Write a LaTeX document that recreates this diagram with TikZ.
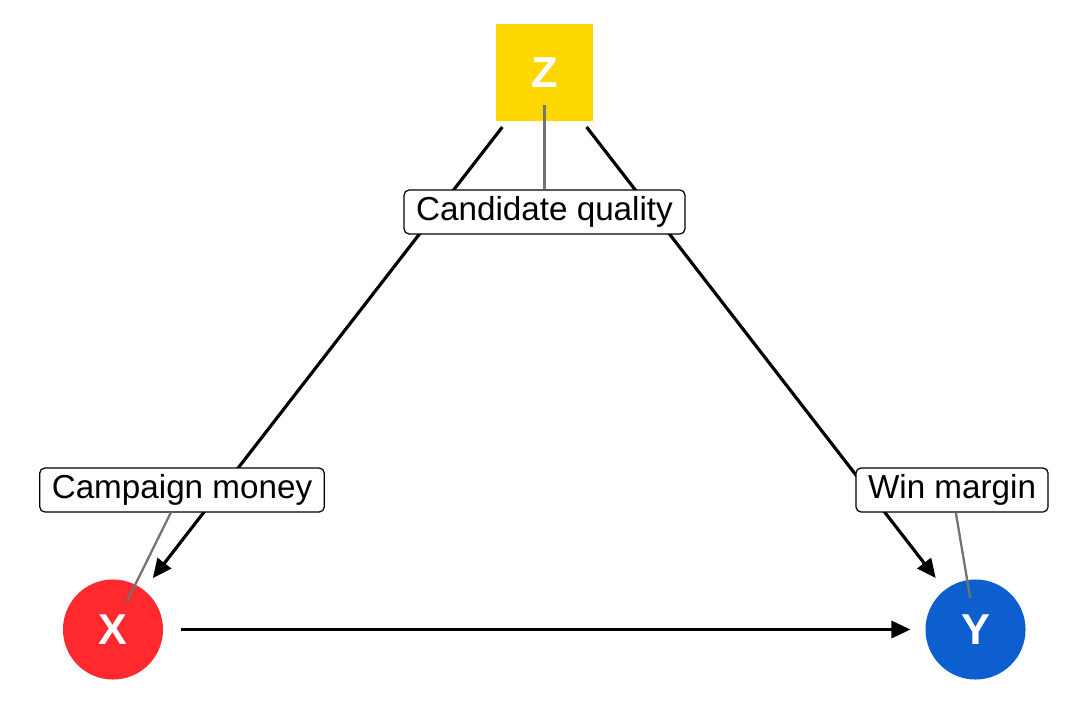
\documentclass[tikz,border=0pt]{standalone}
\usepackage{fontspec}
\setmainfont{Liberation Sans}
\usetikzlibrary{arrows.meta}
\definecolor{zyellow}{RGB}{255,215,0}
\definecolor{xred}{RGB}{255,41,46}
\definecolor{yblue}{RGB}{13,94,207}
\definecolor{segray}{RGB}{115,115,115}
\begin{document}
\begin{tikzpicture}[x=0.01cm,y=-0.01cm,
    arrow/.style = {line width=0.9pt,-{Triangle[length=0.19cm,width=0.17cm]}},
    var/.style = {circle,minimum size=1cm,inner sep=0pt,outer sep=0.15cm,
        text=white,font=\fontsize{12.3}{14}\selectfont\bfseries},
    lab/.style = {draw,fill=white,rounded corners=0.05cm,line width=0.35pt,
        inner xsep=0.12cm,inner ysep=0.065cm,font=\fontsize{9.45}{11}\selectfont},
    seg/.style = {segray,line width=0.65pt,shorten >=0.32cm}]
    \useasboundingbox (0,0) rectangle (1080,712);

    \node [var,rectangle,minimum size=0.97cm,outer sep=0.06cm,fill=zyellow] (z) at (544.5,72.5) {Z};
    \node [var,fill=xred] (x) at (113,629.5) {X};
    \node [var,fill=yblue] (y) at (975.5,629.5) {Y};

    \draw[arrow] (z) -- (x);
    \draw[arrow] (z) -- (y);
    \draw[arrow,shorten <=0.03cm] (x) -- (y);

    \node [lab] (quality) at (544.5,212) {Candidate quality};
    \node [lab] (money) at (182,490) {Campaign money};
    \node [lab] (margin) at (952,490) {Win margin};

    \draw[seg] (quality) -- (z.center);
    \draw[seg] (money) -- (x.center);
    \draw[seg] (margin) -- (y.center);
\end{tikzpicture}
\end{document}
